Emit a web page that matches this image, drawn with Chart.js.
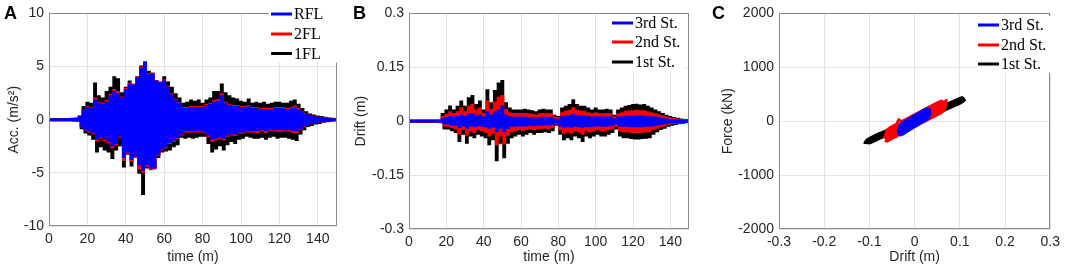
<!DOCTYPE html>
<html>
<head>
<meta charset="utf-8">
<script src="https://cdn.jsdelivr.net/npm/chart.js@4.4.0/dist/chart.umd.min.js"></script>
<style>
  body { margin: 0; background: #fff; width: 1065px; height: 275px; overflow: hidden; }
  canvas { position: absolute; top: 0; }
</style>
</head>
<body>
<canvas id="chartA" width="345" height="275" style="left:0px"></canvas>
<canvas id="chartB" width="350" height="275" style="left:350px"></canvas>
<canvas id="chartC" width="365" height="275" style="left:700px"></canvas>
<script>
// sampling instants (s), one per second
const time = Array.from({ length: 151 }, (_, i) => i);

// A: floor accelerations (m/s2), peaks
const accRFL = [
  0.04,-0.04,0.04,-0.04,0.05,-0.04,0.04,-0.05,0.05,-0.05,
  0.06,-0.05,0.06,-0.06,0.08,-0.08,0.25,-0.6,0.8,-0.9,
  1.1,-1.0,1.0,-1.2,1.8,-1.8,1.5,-1.6,1.4,-1.8,
  1.6,-2.0,2.2,-2.4,2.6,-2.2,2.4,-1.5,2.0,-3.5,
  2.8,-3.0,3.3,-3.7,3.2,-3.4,3.9,-4.2,4.8,-4.7,
  5.4,-4.2,4.2,-4.5,4.3,-4.5,3.6,-3.2,3.4,-2.7,
  3.6,-2.5,3.0,-2.1,2.3,-1.9,1.8,-1.6,1.5,-1.3,
  1.0,-1.0,1.0,-1.0,1.1,-1.0,1.1,-1.0,1.1,-1.0,
  1.1,-1.1,1.3,-1.4,1.4,-1.8,1.6,-1.7,1.7,-1.6,
  2.2,-1.7,1.5,-1.4,1.3,-1.3,1.2,-1.3,1.2,-1.1,
  1.1,-1.1,1.1,-1.0,1.2,-1.0,1.0,-1.0,1.0,-1.0,
  0.9,-0.9,0.9,-1.0,0.9,-0.9,0.9,-0.9,1.0,-0.9,
  1.0,-0.9,1.0,-0.9,0.9,-0.9,1.0,-1.0,1.1,-1.0,
  0.9,-0.8,0.6,-0.55,0.45,-0.4,0.33,-0.3,0.26,-0.22,
  0.18,-0.16,0.14,-0.12,0.1,-0.09,0.07,-0.06,0.05,-0.04,
  0.03
];
const acc2FL = [
  0.05,-0.05,0.05,-0.05,0.05,-0.05,0.05,-0.05,0.05,-0.05,
  0.06,-0.06,0.07,-0.06,0.09,-0.09,0.27,-0.65,0.85,-0.95,
  1.2,-1.1,1.1,-1.3,2.0,-1.95,1.6,-1.7,1.5,-1.95,
  1.75,-2.15,2.35,-2.6,2.8,-2.3,2.6,-1.6,2.1,-3.8,
  2.9,-3.1,3.4,-3.85,3.3,-3.5,4.0,-4.6,4.9,-4.9,
  5.3,-4.35,4.3,-4.65,4.35,-4.6,3.65,-3.3,3.45,-2.8,
  3.7,-2.6,3.1,-2.2,2.4,-2.0,1.9,-1.7,1.6,-1.4,
  1.1,-1.1,1.1,-1.1,1.2,-1.1,1.2,-1.1,1.2,-1.1,
  1.2,-1.2,1.4,-1.55,1.5,-2.0,1.75,-1.85,1.85,-1.75,
  2.4,-1.85,1.6,-1.5,1.4,-1.4,1.3,-1.45,1.3,-1.2,
  1.2,-1.2,1.2,-1.1,1.3,-1.1,1.1,-1.1,1.1,-1.15,
  1.0,-1.0,1.0,-1.15,1.0,-1.0,1.0,-1.0,1.1,-1.05,
  1.1,-1.05,1.1,-1.0,1.0,-1.05,1.1,-1.15,1.25,-1.2,
  1.0,-0.9,0.68,-0.62,0.5,-0.45,0.37,-0.34,0.29,-0.25,
  0.2,-0.19,0.16,-0.14,0.12,-0.1,0.08,-0.07,0.055,-0.045,
  0.03
];
const acc1FL = [
  0.05,-0.05,0.06,-0.05,0.05,-0.06,0.05,-0.05,0.06,-0.06,
  0.07,-0.06,0.08,-0.07,0.1,-0.1,0.3,-0.8,1.2,-1.2,
  1.6,-1.4,1.5,-1.8,3.4,-3.0,2.2,-2.5,2.0,-2.8,
  2.6,-3.0,3.0,-3.6,4.0,-2.8,3.8,-2.4,2.5,-4.4,
  3.0,-3.2,3.6,-4.3,3.2,-3.5,4.0,-5.0,5.0,-7.0,
  5.3,-4.5,4.5,-4.0,4.3,-4.4,3.6,-3.5,3.5,-3.0,
  4.0,-2.9,3.5,-2.8,3.0,-2.5,2.4,-2.3,2.0,-1.6,
  1.5,-1.7,1.6,-1.6,1.8,-1.7,1.7,-1.6,1.8,-1.5,
  1.5,-1.5,1.8,-2.2,2.0,-3.0,2.6,-2.7,2.6,-2.4,
  3.3,-2.8,2.5,-2.3,2.2,-2.0,2.0,-2.2,1.9,-1.8,
  1.7,-1.7,1.6,-1.5,1.9,-1.6,1.5,-1.7,1.6,-1.7,
  1.5,-1.6,1.6,-1.8,1.4,-1.6,1.5,-1.5,1.6,-1.7,
  1.6,-1.6,1.5,-1.6,1.5,-1.7,1.7,-1.8,1.8,-1.9,
  1.4,-1.3,1.0,-0.9,0.7,-0.6,0.5,-0.5,0.4,-0.35,
  0.3,-0.3,0.25,-0.2,0.18,-0.15,0.12,-0.1,0.08,-0.06,
  0.04
];

// B: storey drifts (m)
const drift3 = [
  0.001,-0.001,0.001,-0.001,0.001,-0.001,0.001,-0.001,0.001,-0.001,
  0.001,-0.001,0.001,-0.001,0.001,-0.001,0.001,-0.001,0.006,-0.006,
  0.009,-0.007,0.012,-0.009,0.01,-0.01,0.012,-0.016,0.016,-0.011,
  0.012,-0.018,0.018,-0.012,0.02,-0.014,0.014,-0.011,0.016,-0.012,
  0.01,-0.014,0.025,-0.018,0.015,-0.015,0.024,-0.028,0.03,-0.018,
  0.04,-0.028,0.015,-0.018,0.011,-0.013,0.01,-0.012,0.01,-0.011,
  0.01,-0.012,0.01,-0.011,0.009,-0.009,0.009,-0.011,0.008,-0.009,
  0.009,-0.009,0.01,-0.009,0.009,-0.009,0.009,-0.008,0.005,-0.004,
  0.004,-0.011,0.011,-0.015,0.013,-0.014,0.014,-0.015,0.017,-0.013,
  0.014,-0.014,0.013,-0.016,0.013,-0.013,0.011,-0.014,0.01,-0.013,
  0.011,-0.011,0.01,-0.013,0.01,-0.013,0.01,-0.011,0.01,-0.01,
  0.005,-0.007,0.01,-0.012,0.011,-0.013,0.012,-0.013,0.013,-0.014,
  0.013,-0.014,0.014,-0.014,0.013,-0.014,0.013,-0.013,0.012,-0.013,
  0.011,-0.011,0.01,-0.009,0.008,-0.007,0.007,-0.006,0.005,-0.004,
  0.004,-0.003,0.003,-0.003,0.002,-0.002,0.002,-0.002,0.001,-0.001,
  0.001
];
const drift2 = [
  0.0015,-0.0015,0.0015,-0.0015,0.0015,-0.0015,0.0015,-0.0015,0.0015,-0.0015,
  0.0015,-0.0015,0.0015,-0.0015,0.0015,-0.0015,0.0015,-0.0015,0.012,-0.012,
  0.018,-0.013,0.025,-0.016,0.02,-0.02,0.025,-0.035,0.035,-0.022,
  0.025,-0.038,0.04,-0.025,0.045,-0.03,0.03,-0.022,0.035,-0.025,
  0.02,-0.03,0.055,-0.04,0.032,-0.032,0.052,-0.065,0.065,-0.04,
  0.07,-0.062,0.032,-0.038,0.022,-0.028,0.02,-0.025,0.02,-0.022,
  0.02,-0.025,0.02,-0.022,0.019,-0.019,0.018,-0.022,0.016,-0.019,
  0.019,-0.019,0.02,-0.018,0.019,-0.019,0.019,-0.016,0.01,-0.007,
  0.008,-0.022,0.022,-0.032,0.026,-0.029,0.029,-0.032,0.036,-0.026,
  0.029,-0.029,0.026,-0.035,0.026,-0.026,0.022,-0.029,0.019,-0.026,
  0.022,-0.022,0.019,-0.026,0.019,-0.026,0.02,-0.022,0.019,-0.019,
  0.01,-0.013,0.019,-0.026,0.022,-0.028,0.026,-0.028,0.027,-0.03,
  0.028,-0.03,0.029,-0.03,0.028,-0.03,0.028,-0.029,0.025,-0.028,
  0.022,-0.022,0.019,-0.018,0.016,-0.014,0.013,-0.011,0.01,-0.008,
  0.008,-0.006,0.006,-0.005,0.004,-0.004,0.003,-0.003,0.002,-0.001,
  0.001
];
const drift1 = [
  0.002,-0.002,0.002,-0.002,0.002,-0.002,0.002,-0.002,0.002,-0.002,
  0.002,-0.002,0.002,-0.002,0.002,-0.002,0.002,-0.003,0.02,-0.02,
  0.03,-0.02,0.041,-0.025,0.03,-0.03,0.04,-0.055,0.055,-0.035,
  0.04,-0.06,0.064,-0.04,0.07,-0.045,0.045,-0.035,0.055,-0.04,
  0.03,-0.045,0.086,-0.064,0.05,-0.05,0.084,-0.109,0.105,-0.06,
  0.112,-0.1,0.05,-0.06,0.035,-0.045,0.03,-0.04,0.03,-0.035,
  0.03,-0.04,0.032,-0.035,0.03,-0.03,0.028,-0.035,0.025,-0.03,
  0.03,-0.03,0.032,-0.028,0.03,-0.03,0.03,-0.025,0.015,-0.01,
  0.012,-0.035,0.035,-0.05,0.04,-0.045,0.045,-0.05,0.058,-0.04,
  0.045,-0.045,0.04,-0.055,0.04,-0.04,0.035,-0.045,0.03,-0.04,
  0.035,-0.035,0.03,-0.04,0.03,-0.04,0.032,-0.035,0.03,-0.03,
  0.015,-0.02,0.03,-0.04,0.035,-0.045,0.04,-0.045,0.042,-0.047,
  0.045,-0.048,0.046,-0.048,0.044,-0.047,0.045,-0.046,0.04,-0.045,
  0.035,-0.035,0.03,-0.028,0.025,-0.022,0.02,-0.018,0.015,-0.013,
  0.012,-0.01,0.009,-0.008,0.007,-0.006,0.005,-0.004,0.003,-0.002,
  0.002
];

// C: storey shear (kN) vs drift (m) loops
const loopDrift3 = [
  -0.036,-0.03,-0.02,-0.01,0,0.01,0.02,0.03,0.034,
  0.032,0.025,0.02,0.01,0,-0.01,-0.02,-0.03,-0.036,-0.036,
  -0.03,-0.015,0,0.015,0.03,0.03,0.015,0,-0.015,-0.03,
  -0.025,0,0.025,0.025,0,-0.025,
  -0.03,0,0.028
];
const loopForce3 = [
  -230,-255,-204,-153,-100,-49,2,53,140,
  225,228,202,151,100,49,-2,-53,-150,-230,
  -213,-137,-60,17,93,213,137,60,-17,-93,
  -153,-25,103,153,25,-103,
  -153,0,143
];
const loopDrift2 = [
  -0.066,-0.06,-0.05,-0.04,-0.03,-0.02,-0.01,0,0.01,0.02,0.03,0.04,0.05,0.06,0.066,
  0.07,0.064,0.06,
  0.05,0.04,0.03,0.02,0.01,0,-0.01,-0.02,-0.03,-0.035,-0.04,-0.05,-0.06,-0.066,
  -0.06,-0.03,0,0.03,0.06,0.065,0.06,0.03,0,-0.03,-0.06,
  -0.055,-0.02,0.02,0.055,0.05,0.02,-0.02,-0.055,
  -0.06,0,0.062
];
const loopForce2 = [
  -355,-370,-320,-276,-232,-188,-144,-100,-56,-12,32,76,120,164,220,
  385,335,375,
  340,296,252,208,164,120,76,32,-12,30,-56,-100,-160,-300,
  -320,-192,-60,72,204,290,324,192,80,-52,-194,
  -267,-113,63,217,255,123,-53,-207,
  -254,10,283
];
const loopDrift1 = [
  -0.111,-0.1,-0.08,-0.06,-0.04,-0.02,0,0.02,0.04,0.06,0.08,0.1,0.111,
  0.105,0.09,0.07,0.05,0.03,0.01,-0.01,-0.03,-0.05,-0.07,-0.09,-0.105,-0.111,
  -0.1,-0.07,-0.04,-0.01,0.02,0.05,0.08,0.105,
  0.1,0.07,0.04,0.01,-0.02,-0.05,-0.08,-0.1,
  -0.105,-0.05,0,0.05,0.108
];
const loopForce1 = [
  -400,-407,-334,-260,-187,-113,-40,33,107,180,254,327,390,
  445,390,317,244,170,97,23,-50,-124,-197,-270,-340,-400,
  -382,-272,-162,-52,58,169,279,371,
  412,302,192,82,-28,-139,-249,-322,
  -375,-174,10,194,406
];

const blue = "#0000ff", red = "#ff0000", black = "#000000";
const tickColor = "#262626";
const gridColor = "#e3e3e3";
const sans = "'Liberation Sans', Arial, sans-serif";

function pts(xs, ys) {
  return xs.map(function (x, i) { return { x: x, y: ys[i] }; });
}

// box, panel letter and MATLAB style legend
const decor = {
  id: "decor",
  afterDraw: function (chart, args, opts) {
    const c = chart.ctx, a = chart.chartArea;
    c.save();
    c.strokeStyle = "#8a8a8a";
    c.lineWidth = 1;
    c.strokeRect(Math.round(a.left) + 0.5, Math.round(a.top) + 0.5,
      Math.round(a.right - a.left) - 1, Math.round(a.bottom - a.top) - 1);

    c.fillStyle = "#000";
    c.font = "bold 18px " + sans;
    c.textBaseline = "alphabetic";
    c.fillText(opts.letter, opts.letterX, 19);

    const lg = opts.legend;
    c.font = "16px 'Liberation Serif', 'Times New Roman', serif";
    c.fillStyle = "#fff";
    c.fillRect(lg.x - 2, lg.rows[0] - 9, 75, lg.rows[2] - lg.rows[0] + 18);
    chart.data.datasets.forEach(function (ds, i) {
      const y = lg.rows[i];
      c.strokeStyle = ds.borderColor;
      c.lineWidth = 3;
      c.beginPath();
      c.moveTo(lg.x, y);
      c.lineTo(lg.x + 21, y);
      c.stroke();
      c.fillStyle = "#000";
      c.textBaseline = "middle";
      c.fillText(ds.label, lg.x + 23, y + 1);
    });
    c.restore();
  }
};

function axis(min, max, step, title, titlePad, fmt, fit, bounds) {
  return {
    type: "linear",
    min: min,
    max: max,
    border: { display: false },
    grid: { color: gridColor, drawTicks: false },
    ticks: {
      stepSize: step,
      includeBounds: bounds,
      autoSkip: false,
      maxRotation: 0,
      padding: 5,
      color: tickColor,
      font: { family: sans, size: 14 },
      callback: fmt
    },
    title: {
      display: true,
      text: title,
      color: tickColor,
      font: { family: sans, size: 14 },
      padding: titlePad
    },
    afterFit: fit
  };
}

// dense records: each sample drawn as a vertical stroke
function trace(label, color, data) {
  return {
    label: label,
    data: data,
    borderColor: color,
    backgroundColor: color,
    borderWidth: 2,
    pointRadius: 0,
    fill: false,
    stepped: "middle"
  };
}

function loop(label, color, xs, ys, width) {
  return {
    label: label,
    data: pts(xs, ys),
    borderColor: color,
    backgroundColor: color,
    borderWidth: width,
    pointRadius: 0,
    showLine: true,
    tension: 0.1
  };
}

const plain = function (v) { return String(Math.round(v * 100) / 100); };

// A
new Chart(document.getElementById("chartA"), {
  type: "line",
  data: {
    labels: time,
    datasets: [
      trace("RFL", blue, accRFL),
      trace("2FL", red, acc2FL),
      trace("1FL", black, acc1FL)
    ]
  },
  options: {
    responsive: false,
    animation: false,
    layout: { padding: { left: 0, top: 7, right: 8, bottom: 0 } },
    plugins: {
      legend: { display: false },
      tooltip: { enabled: false },
      decor: { letter: "A", letterX: 4, legend: { x: 271, rows: [14, 34, 53.5] } }
    },
    scales: {
      x: axis(0, 150, 20, "time (m)", { top: 0, bottom: 9 }, plain,
        function (s) { s.height = 49; }, false),
      y: axis(-10, 10, 5, "Acc. (m/s\u00B2)", { top: 6, bottom: 0 }, plain,
        function (s) { s.width = 49; }, true)
    }
  },
  plugins: [decor]
});

// B
new Chart(document.getElementById("chartB"), {
  type: "line",
  data: {
    labels: time,
    datasets: [
      trace("3rd St.", blue, drift3),
      trace("2nd St.", red, drift2),
      trace("1st St.", black, drift1)
    ]
  },
  options: {
    responsive: false,
    animation: false,
    layout: { padding: { left: 0, top: 11, right: 11, bottom: 0 } },
    plugins: {
      legend: { display: false },
      tooltip: { enabled: false },
      decor: { letter: "B", letterX: 3, legend: { x: 262, rows: [23, 42, 62] } }
    },
    scales: {
      x: axis(0, 150, 20, "time (m)", { top: 0, bottom: 9 }, plain,
        function (s) { s.height = 46; }, false),
      y: axis(-0.3, 0.3, 0.15, "Drift (m)", { top: 3, bottom: 0 }, plain,
        function (s) { s.width = 59; }, true)
    }
  },
  plugins: [decor]
});

// C
new Chart(document.getElementById("chartC"), {
  type: "scatter",
  data: {
    datasets: [
      loop("3rd St.", blue, loopDrift3, loopForce3, 3),
      loop("2nd St.", red, loopDrift2, loopForce2, 3),
      loop("1st St.", black, loopDrift1, loopForce1, 2.5)
    ]
  },
  options: {
    responsive: false,
    animation: false,
    layout: { padding: { left: 0, top: 12, right: 11, bottom: 0 } },
    plugins: {
      legend: { display: false },
      tooltip: { enabled: false },
      decor: { letter: "C", letterX: 12, legend: { x: 278, rows: [25, 45, 64] } }
    },
    scales: {
      x: axis(-0.3, 0.3, 0.1, "Drift (m)", { top: 0, bottom: 9 }, plain,
        function (s) { s.height = 46; }, true),
      y: axis(-2000, 2000, 1000, "Force (kN)", { top: 20, bottom: 0 }, plain,
        function (s) { s.width = 79; }, true)
    }
  },
  plugins: [decor]
});
</script>
</body>
</html>
